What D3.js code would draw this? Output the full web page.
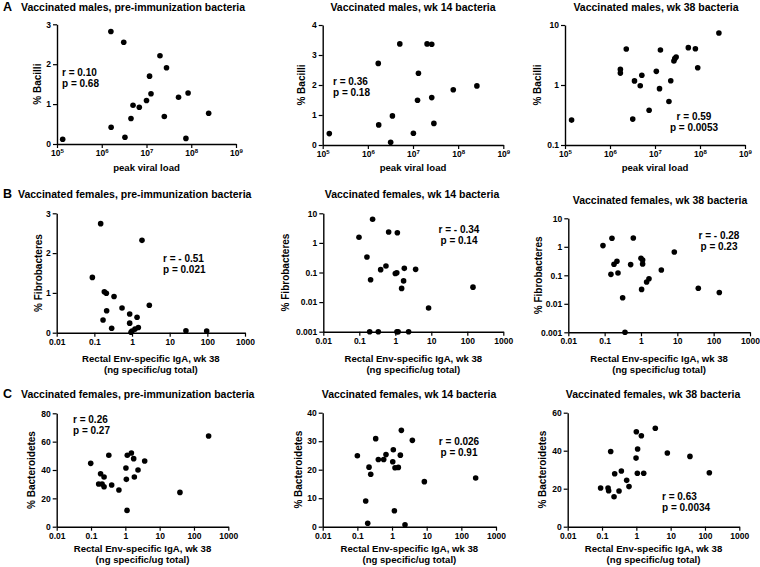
<!DOCTYPE html>
<html><head><meta charset="utf-8">
<script src="https://cdn.jsdelivr.net/npm/d3@7"></script>
<style>
html,body{margin:0;padding:0;background:#fff;}
svg text{font-family:"Liberation Sans",Arial,Helvetica,sans-serif;font-weight:bold;fill:#000;}
</style></head>
<body>
<svg id="chart" width="760" height="567"></svg>
<script>
// ---- Row A: peak viral load vs % Bacilli ----
const viralTicks = [1e5, 1e6, 1e7, 1e8, 1e9];
const a1X = [1.34e5, 1.6e6, 3.1e6, 1.62e6, 3.3e6, 4.5e6, 5.0e6, 6.9e6, 1.0e7, 1.17e7, 1.26e7, 2.0e7, 2.5e7, 2.8e7, 5.2e7, 7.6e7, 8.5e7, 2.45e8];
const a1Y = [0.12, 2.82, 2.55, 0.42, 0.17, 0.64, 0.97, 0.92, 1.09, 1.70, 1.26, 2.21, 0.69, 1.91, 1.17, 0.14, 1.28, 0.77];
const a2X = [1.4e5, 1.7e6, 1.74e6, 3.2e6, 3.5e6, 5.1e6, 1.02e7, 1.26e7, 1.32e7, 2.05e7, 2.6e7, 2.6e7, 2.9e7, 7.8e7, 2.6e8];
const a2Y = [0.38, 2.72, 0.67, 0.09, 0.97, 3.37, 0.39, 1.49, 2.39, 3.37, 3.36, 1.58, 0.72, 1.84, 1.97];
const a3X = [1.4e5, 1.7e6, 1.7e6, 2.3e6, 3.2e6, 3.5e6, 4.7e6, 5.1e6, 7.4e6, 1.07e7, 1.26e7, 1.32e7, 2.04e7, 2.24e7, 2.63e7, 2.75e7, 2.95e7, 5.5e7, 7.9e7, 8.9e7, 2.63e8];
const a3Y = [0.26, 1.82, 1.58, 3.98, 0.27, 1.17, 0.97, 1.45, 0.38, 1.69, 0.87, 3.83, 0.53, 1.18, 2.51, 2.75, 2.93, 4.19, 4.03, 1.94, 7.36];

// ---- Row B: Rectal Env-specific IgA vs % Fibrobacteres ----
const igaTicks = [0.01, 0.1, 1, 10, 100, 1000];
const b1X = [0.0885, 0.147, 0.17, 0.184, 0.208, 0.212, 0.288, 0.333, 0.543, 0.867, 0.867, 0.94, 1.0, 1.2, 1.36, 1.47, 1.84, 2.88, 27, 96];
const b1Y = [1.39, 2.74, 0.32, 1.03, 0.99, 0.55, 0.11, 0.91, 0.62, 0.47, 0.24, 0.01, 0.04, 0.09, 0.39, 0.13, 2.32, 0.69, 0.05, 0.04];
const b2X = [0.098, 0.163, 0.206, 0.194, 0.234, 0.337, 0.392, 0.55, 0.653, 1.0, 1.1, 1.14, 1.11, 1.2, 1.5, 1.70, 1.78, 2.34, 3.67, 8.4, 144];
const b2Y = [1.55, 0.334, 0.057, 0.001, 6.27, 0.001, 0.125, 0.166, 2.34, 0.092, 0.098, 2.21, 0.001, 0.001, 0.029, 0.052, 0.138, 0.001, 0.128, 0.0063, 0.032];
const b3X = [0.09, 0.149, 0.159, 0.181, 0.218, 0.233, 0.313, 0.363, 0.52, 0.615, 1.0, 1.04, 1.11, 1.11, 1.43, 1.66, 3.63, 8.26, 37.8, 143];
const b3Y = [1.1, 0.108, 1.99, 0.243, 0.31, 0.12, 0.0164, 0.001, 0.237, 2.04, 0.395, 0.032, 0.345, 0.25, 0.058, 0.076, 0.154, 0.66, 0.035, 0.025];

// ---- Row C: Rectal Env-specific IgA vs % Bacteroidetes ----
const c1X = [0.098, 0.19, 0.167, 0.21, 0.24, 0.24, 0.33, 0.40, 0.65, 1.04, 1.07, 1.14, 1.12, 1.50, 1.75, 1.83, 2.34, 3.66, 39, 267];
const c1Y = [44.7, 37.4, 30.1, 30.1, 35.1, 28.2, 50.4, 29.4, 25.9, 41.4, 33.4, 50.4, 11.5, 52.0, 48.0, 35.1, 40.0, 46.4, 24.2, 64.0];
const c2X = [0.1, 0.174, 0.199, 0.217, 0.243, 0.338, 0.403, 0.575, 0.67, 1.05, 1.09, 1.17, 1.22, 1.52, 1.74, 1.86, 2.37, 3.86, 8.57, 259];
const c2Y = [24.9, 9.0, 1.2, 20.9, 18.4, 30.9, 23.6, 23.6, 25.3, 22.8, 27.0, 5.6, 20.7, 20.8, 25.1, 33.8, 0.7, 30.3, 15.8, 17.1];
const c3X = [0.091, 0.15, 0.156, 0.179, 0.224, 0.234, 0.313, 0.366, 0.523, 0.611, 1.0, 0.98, 1.09, 1.07, 1.4, 1.64, 3.57, 8.0, 36.5, 134];
const c3Y = [20.4, 20.4, 18.9, 39.6, 15.8, 27.9, 18.8, 29.3, 24.4, 21.1, 50.0, 36.1, 40.9, 28.1, 47.9, 28.1, 51.8, 38.8, 37.0, 28.4];

const titles = [
  "Vaccinated males, pre-immunization bacteria", "Vaccinated males, wk 14  bacteria", "Vaccinated males, wk 38 bacteria",
  "Vaccinated females, pre-immunization bacteria", "Vaccinated females, wk 14 bacteria", "Vaccinated females, wk 38 bacteria",
  "Vaccinated females, pre-immunization bacteria", "Vaccinated females,  wk 14 bacteria", "Vaccinated females, wk 38 bacteria"];
const stats = [["r = 0.10", "p = 0.68"], ["r = 0.36", "p = 0.18"], ["r = 0.59", "p = 0.0053"],
  ["r = - 0.51", "p = 0.021"], ["r = - 0.34", "p = 0.14"], ["r = - 0.28", "p = 0.23"],
  ["r = 0.26", "p = 0.27"], ["r = 0.026", "p = 0.91"], ["r = 0.63", "p = 0.0034"]];
const yTitles = ["% Bacilli", "% Bacilli", "% Bacilli", "% Fibrobacteres", "% Fibrobacteres", "% Fibrobacteres",
  "% Bacteroidetes", "% Bacteroidetes", "% Bacteroidetes"];
const xTitleA = ["peak viral load"];
const xTitleBC = ["Rectal Env-specific IgA, wk 38", "(ng specific/ug total)"];
const letters = ["A", "B", "C"];

// layout (positions only)
const L = [
 {xs:a1X, ys:a1Y, xt:viralTicks, yLog:false, yDom:[0,3], yT:[0,1,2,3], x0:57, x1:236, yt:24.3, yb:144, tx:21, ty:11, anchor:"start", sx:62, sy:76, sa:"start", yto:19, xl:xTitleA, xlb:[171]},
 {xs:a2X, ys:a2Y, xt:viralTicks, yLog:false, yDom:[0,4], yT:[0,1,2,3,4], x0:322.7, x1:503.3, yt:25, yb:145, tx:413, ty:11, anchor:"middle", sx:333, sy:85, sa:"start", yto:20, xl:xTitleA, xlb:[171]},
 {xs:a3X, ys:a3Y, xt:viralTicks, yLog:true, yDom:[0.1,10], yT:[0.1,1,10], x0:565, x1:745, yt:25, yb:145, tx:656, ty:11, anchor:"middle", sx:694, sy:119.5, sa:"middle", yto:27, xl:xTitleA, xlb:[171]},
 {xs:b1X, ys:b1Y, xt:igaTicks, yLog:false, yDom:[0,3], yT:[0,1,2,3], x0:56.7, x1:245, yt:213.3, yb:332.7, tx:18, ty:198, anchor:"start", sx:163, sy:262, sa:"start", yto:17, xl:xTitleBC, xlb:[362,373]},
 {xs:b2X, ys:b2Y, xt:igaTicks, yLog:true, yDom:[0.001,10], yT:[0.001,0.01,0.1,1,10], x0:323.3, x1:503.3, yt:213.3, yb:331.7, tx:412, ty:198, anchor:"middle", sx:459, sy:233, sa:"middle", yto:37, xl:xTitleBC, xlb:[362,373]},
 {xs:b3X, ys:b3Y, xt:igaTicks, yLog:true, yDom:[0.001,10], yT:[0.001,0.01,0.1,1,10], x0:568.3, x1:750, yt:218.3, yb:332.3, tx:660, ty:204, anchor:"middle", sx:719, sy:239, sa:"middle", yto:29, xl:xTitleBC, xlb:[362,373]},
 {xs:c1X, ys:c1Y, xt:igaTicks, yLog:false, yDom:[0,80], yT:[0,20,40,60,80], x0:56.7, x1:228.3, yt:413.3, yb:526.7, tx:21, ty:398, anchor:"start", sx:73, sy:423, sa:"start", yto:24, xl:xTitleBC, xlb:[552,563]},
 {xs:c2X, ys:c2Y, xt:igaTicks, yLog:false, yDom:[0,40], yT:[0,10,20,30,40], x0:322.7, x1:496, yt:412.7, yb:526.7, tx:409, ty:398, anchor:"middle", sx:459, sy:445, sa:"middle", yto:23, xl:xTitleBC, xlb:[552,563]},
 {xs:c3X, ys:c3Y, xt:igaTicks, yLog:false, yDom:[0,60], yT:[0,20,40,60], x0:567.7, x1:739.3, yt:412.7, yb:526.7, tx:653, ty:398, anchor:"middle", sx:662, sy:500, sa:"start", yto:24, xl:xTitleBC, xlb:[552,563]}
];

const svg = d3.select("#chart");

L.forEach((p, i) => {
  const g = svg.append("g");
  const x = d3.scaleLog().domain([p.xt[0], p.xt[p.xt.length - 1]]).range([p.x0, p.x1]);
  const y = (p.yLog ? d3.scaleLog() : d3.scaleLinear()).domain(p.yDom).range([p.yb, p.yt]);
  const isViral = p.xt === viralTicks;

  const xAxis = d3.axisBottom(x).tickValues(p.xt).tickSize(4).tickSizeOuter(0).tickPadding(2)
    .tickFormat(d => isViral ? "" : d3.format("~g")(d));
  const gx = g.append("g").attr("transform", `translate(0,${p.yb})`).call(xAxis);
  const yAxis = d3.axisLeft(y).tickValues(p.yT).tickSize(4).tickSizeOuter(0).tickPadding(2)
    .tickFormat(d => d3.format("~g")(d));
  const gy = g.append("g").attr("transform", `translate(${p.x0},0)`).call(yAxis);

  [gx, gy].forEach(a => {
    a.selectAll("path.domain").attr("stroke", "#000").attr("stroke-width", 1.4);
    a.selectAll(".tick line").attr("stroke", "#000").attr("stroke-width", 1.2);
    a.selectAll(".tick text").attr("font-size", 8.5).attr("font-family", null).style("font-weight", "bold");
  });
  if (isViral) {
    gx.selectAll(".tick text").each(function(d) {
      const t = d3.select(this);
      t.append("tspan").text("10");
      t.append("tspan").attr("dy", -3.5).attr("font-size", 6).text(Math.round(Math.log10(d)));
    });
  }

  // points
  g.append("g").selectAll("circle").data(p.xs.map((v, k) => [v, p.ys[k]])).join("circle")
    .attr("cx", d => x(d[0])).attr("cy", d => y(d[1])).attr("r", 2.8).attr("fill", "#000");

  // panel title
  g.append("text").attr("x", p.tx).attr("y", p.ty).attr("text-anchor", p.anchor)
    .attr("font-size", 10.5).text(titles[i]);
  if (i % 3 === 0) {
    g.append("text").attr("x", 3).attr("y", p.ty).attr("font-size", 12.5).text(letters[i / 3]);
  }

  // stats
  stats[i].forEach((s, k) => {
    g.append("text").attr("x", p.sx).attr("y", p.sy + k * 11).attr("text-anchor", p.sa)
      .attr("font-size", 10).text(s);
  });

  // axis titles
  const cx = (p.x0 + p.x1) / 2;
  p.xl.forEach((s, k) => {
    g.append("text").attr("x", cx).attr("y", p.xlb[k]).attr("text-anchor", "middle")
      .attr("font-size", 9.6).text(s);
  });
  const cy = (p.yt + p.yb) / 2;
  g.append("text").attr("transform", `translate(${p.x0 - p.yto},${cy}) rotate(-90)`)
    .attr("text-anchor", "middle").attr("dominant-baseline", "middle")
    .attr("font-size", 10).text(yTitles[i]);
});
</script>
</body></html>
